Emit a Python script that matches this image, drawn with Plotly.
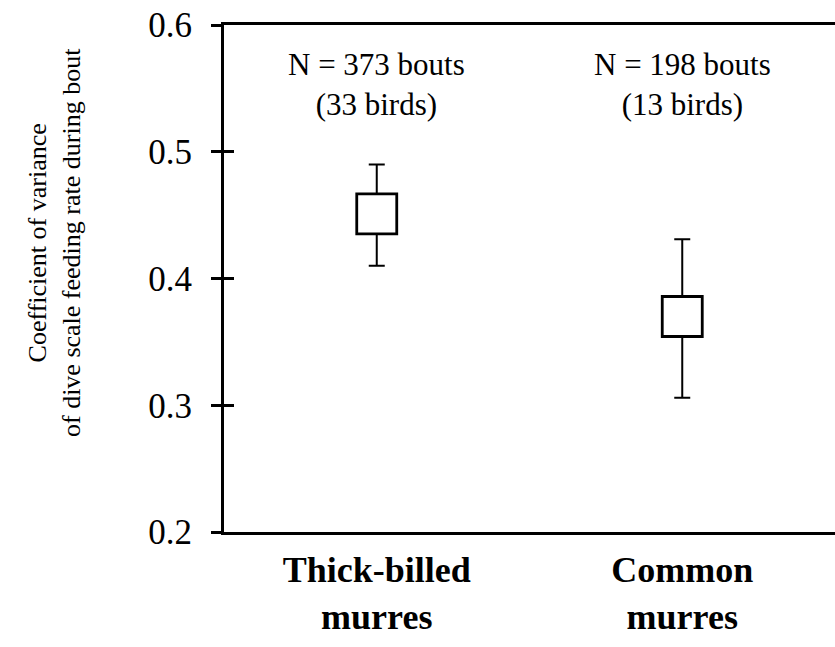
import plotly.graph_objects as go

categories = ["Thick-billed murres", "Common murres"]
tick_labels = ["<b>Thick-billed<br>murres</b>", "<b>Common<br>murres</b>"]
means = [0.451, 0.370]
err_plus = [0.039, 0.061]
err_minus = [0.041, 0.064]
n_labels = ["N = 373 bouts<br>(33 birds)", "N = 198 bouts<br>(13 birds)"]
y_ticks = [0.2, 0.3, 0.4, 0.5, 0.6]

FONT = "Liberation Serif"

fig = go.Figure()
fig.add_trace(go.Scatter(
    x=categories, y=means, mode="markers",
    marker=dict(symbol="square", size=40, color="white",
                line=dict(color="black", width=2.8)),
    error_y=dict(type="data", symmetric=False, array=err_plus, arrayminus=err_minus,
                 color="black", thickness=2, width=8),
    showlegend=False, hoverinfo="skip",
))
fig.add_trace(go.Scatter(x=categories, y=means, yaxis="y2", mode="markers",
                         marker=dict(opacity=0), showlegend=False, hoverinfo="skip"))

for c, t in zip(categories, n_labels):
    fig.add_annotation(x=c, y=0.553, xref="x", yref="y", text=t, showarrow=False,
                       font=dict(family=FONT, size=31, color="black"),
                       xanchor="center", yanchor="middle")

fig.add_annotation(x=0, y=0.57, xref="paper", yref="paper", xshift=-170,
                   text="Coefficient of variance<br>of dive scale feeding rate during bout",
                   textangle=-90, showarrow=False,
                   font=dict(family=FONT, size=26, color="black"),
                   xanchor="center", yanchor="middle")

fig.update_layout(
    width=835, height=647,
    margin=dict(l=224, r=0, t=25, b=115),
    paper_bgcolor="white", plot_bgcolor="white",
    font=dict(family=FONT, color="black"),
    xaxis=dict(type="category", range=[-0.5, 1.5], tickvals=categories, ticktext=tick_labels,
               showline=True, linecolor="black", linewidth=2.8, mirror=True,
               ticks="", showgrid=False, zeroline=False, ticklabelstandoff=4,
               tickfont=dict(family=FONT, size=36, color="black")),
    yaxis=dict(range=[0.2, 0.6], tickvals=y_ticks, tickformat=".1f",
               showline=True, linecolor="black", linewidth=2.8,
               ticks="outside", ticklen=10, tickwidth=2.5, tickcolor="black",
               ticklabelstandoff=12,
               showgrid=False, zeroline=False,
               tickfont=dict(family=FONT, size=35, color="black")),
    yaxis2=dict(range=[0.2, 0.6], tickvals=y_ticks, overlaying="y", side="left",
                showline=False, ticks="inside", ticklen=10, tickwidth=2.5, tickcolor="black",
                showticklabels=False, showgrid=False, zeroline=False),
)

fig.write_html("out.html")
